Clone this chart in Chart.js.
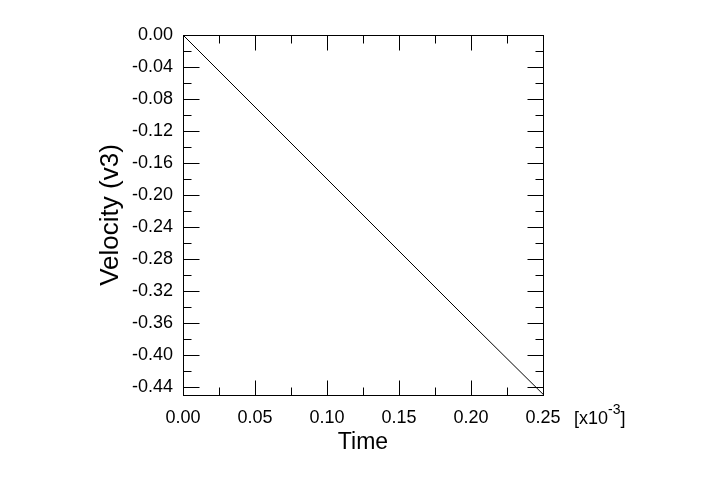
<!DOCTYPE html>
<html>
<head>
<meta charset="utf-8">
<script src="https://cdn.jsdelivr.net/npm/chart.js@4/dist/chart.umd.min.js"></script>
<style>
  body { margin: 0; background: #fff; }
  canvas { display: block; }
</style>
</head>
<body>
<canvas id="chart-area" width="707" height="477"></canvas>
<script>
// time in units of 1e-3
var timeVals = [0, 0.05, 0.10, 0.15, 0.20, 0.25];
var velocityVals = [0, -0.090, -0.180, -0.270, -0.360, -0.449];

var xMajor = [0, 0.05, 0.10, 0.15, 0.20, 0.25];
var xMinor = [0.025, 0.075, 0.125, 0.175, 0.225];
var yMajor = [0, -0.04, -0.08, -0.12, -0.16, -0.20, -0.24, -0.28, -0.32, -0.36, -0.40, -0.44];
var yMinor = [-0.02, -0.06, -0.10, -0.14, -0.18, -0.22, -0.26, -0.30, -0.34, -0.38, -0.42];

var FONT = "'Liberation Sans', Arial, sans-serif";

// frame + inward ticks on all four sides
var framePlugin = {
    id: 'frame',
    afterDraw: function (chart) {
        var ctx = chart.ctx;
        var xs = chart.scales.x, ys = chart.scales.y;
        var L = Math.round(xs.getPixelForValue(xs.min)) + 0.5, R = Math.round(xs.getPixelForValue(xs.max)) + 0.5;
        var T = Math.round(ys.getPixelForValue(ys.max)) + 0.5, B = Math.round(ys.getPixelForValue(ys.min)) + 0.5;
        ctx.save();
        ctx.strokeStyle = '#000';
        ctx.lineWidth = 1;
        ctx.strokeRect(L, T, R - L, B - T);
        ctx.beginPath();
        function xt(v, len) {
            var px = Math.round(xs.getPixelForValue(v)) + 0.5;
            ctx.moveTo(px, B); ctx.lineTo(px, B - len);
            ctx.moveTo(px, T); ctx.lineTo(px, T + len);
        }
        function yt(v, len) {
            var py = Math.round(ys.getPixelForValue(v)) + 0.5;
            ctx.moveTo(L, py); ctx.lineTo(L + len, py);
            ctx.moveTo(R, py); ctx.lineTo(R - len, py);
        }
        xMajor.forEach(function (v) { xt(v, 15); });
        xMinor.forEach(function (v) { xt(v, 8); });
        yMajor.forEach(function (v) { yt(v, 16); });
        yMinor.forEach(function (v) { yt(v, 8); });
        ctx.stroke();

        // axis multiplier
        ctx.fillStyle = '#000';
        ctx.textBaseline = 'alphabetic';
        ctx.textAlign = 'left';
        ctx.font = '18px ' + FONT;
        var x0 = 574, base = 424;
        ctx.fillText('[x10', x0, base);
        var w = ctx.measureText('[x10').width;
        ctx.font = '14px ' + FONT;
        ctx.fillText('-3', x0 + w, base - 10);
        var w2 = ctx.measureText('-3').width;
        ctx.font = '18px ' + FONT;
        ctx.fillText(']', x0 + w + w2, base);
        ctx.restore();
    }
};

var points = timeVals.map(function (t, i) { return { x: t, y: velocityVals[i] }; });

var config = {
    type: 'line',
    data: {
        datasets: [{
            label: 'v3',
            data: points,
            borderColor: '#000',
            borderWidth: 1,
            pointRadius: 0,
            tension: 0,
            fill: false
        }]
    },
    options: {
        responsive: false,
        animation: false,
        layout: { padding: { left: 0, right: 164, top: 35, bottom: 0 } },
        plugins: { legend: { display: false }, tooltip: { enabled: false } },
        scales: {
            x: {
                type: 'linear',
                min: 0,
                max: 0.25,
                afterBuildTicks: function (s) { s.ticks = xMajor.map(function (v) { return { value: v }; }); },
                afterFit: function (s) { s.height = 82; },
                grid: { display: false, drawTicks: false },
                border: { display: false },
                ticks: {
                    color: '#000',
                    padding: 12,
                    maxRotation: 0,
                    font: { family: FONT, size: 18 },
                    callback: function (v) { return v.toFixed(2); }
                },
                title: {
                    display: true,
                    text: 'Time',
                    color: '#000',
                    font: { family: FONT, size: 23 },
                    padding: { top: 0, bottom: 21 }
                }
            },
            y: {
                type: 'linear',
                min: -0.45,
                max: 0,
                afterBuildTicks: function (s) { s.ticks = yMajor.map(function (v) { return { value: v }; }); },
                afterFit: function (s) { s.width = 183; },
                grid: { display: false, drawTicks: false },
                border: { display: false },
                ticks: {
                    color: '#000',
                    padding: 10,
                    font: { family: FONT, size: 18 },
                    callback: function (v) { return v.toFixed(2); }
                },
                title: {
                    display: true,
                    text: 'Velocity (v3)',
                    color: '#000',
                    font: { family: FONT, size: 26 },
                    padding: { top: 95, bottom: 0 }
                }
            }
        }
    },
    plugins: [framePlugin]
};

window.onload = function () {
    var ctx = document.getElementById('chart-area').getContext('2d');
    window.myLine = new Chart(ctx, config);
};
</script>
</body>
</html>
